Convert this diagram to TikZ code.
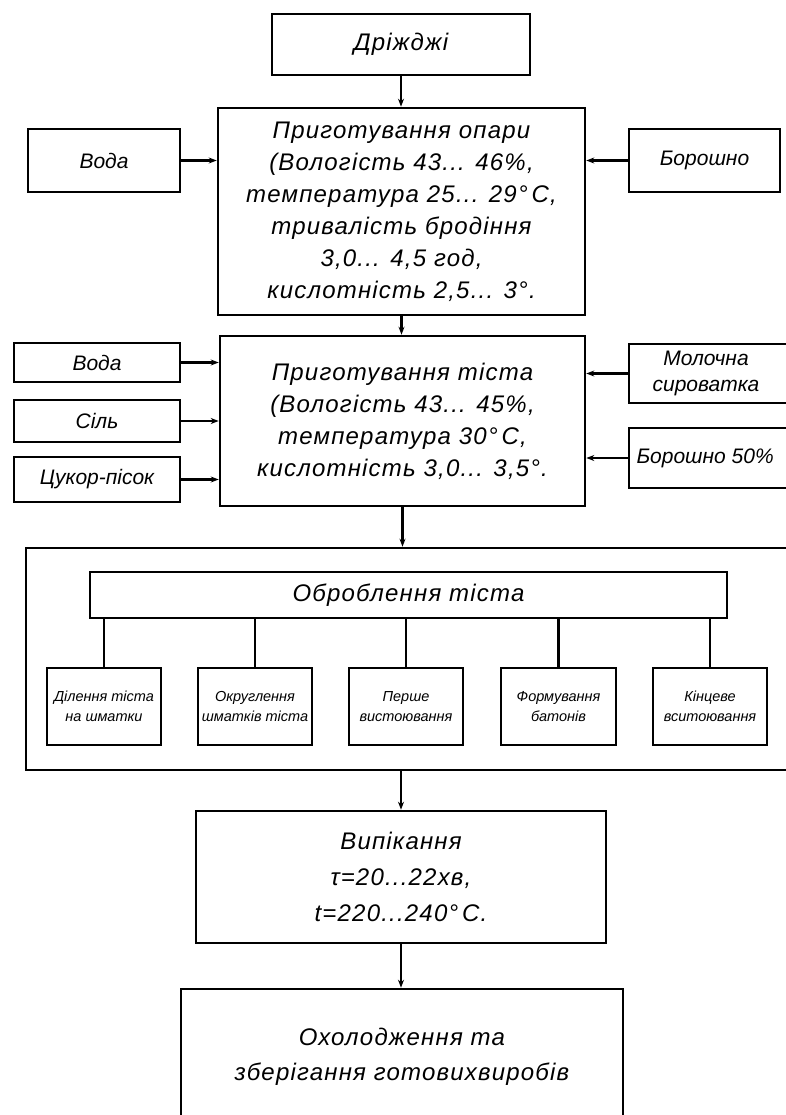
\documentclass[tikz,border=0pt]{standalone}
\usepackage{fontspec}
\setmainfont{Liberation Sans}
\usetikzlibrary{arrows.meta}
\newfontfamily\gostfont{Liberation Sans}[LetterSpace=5]
\begin{document}
\begin{tikzpicture}[x=1pt,y=-1pt,
  box/.style={draw, line width=2.6pt, rectangle, inner sep=0pt, align=center},
  big/.style={font=\gostfont\itshape\fontsize{24}{32}\selectfont},
  side/.style={font=\itshape\fontsize{21}{26}\selectfont, align=center},
  small/.style={font=\itshape\fontsize{14.5}{20}\selectfont},
  conn/.style={line width=2.4pt, -{Stealth[length=8pt,width=6pt]}},
  plain/.style={line width=2.4pt}
]
\clip (0,0) rectangle (786,1115);
\fill[white] (0,0) rectangle (786,1115);

% top part
\node[box, big, minimum width=258pt, minimum height=61pt] (dr) at (401,44.5) {Дріжджі};
\node[box, big, minimum width=367pt, minimum height=207pt] (op) at (401.5,211.5)
  {Приготування опари\\(Вологість 43... 46\%,\\температура 25... 29°\,С,\\тривалість бродіння\\3,0... 4,5 год,\\кислотність 2,5... 3°.};
\node[box, side, minimum width=152pt, minimum height=63pt] (voda1) at (104,160.5) {Вода};
\node[box, side, minimum width=151pt, minimum height=63pt] (bor1) at (704.5,160.5) {Борошно};

% dough preparation
\node[box, big, minimum width=365pt, minimum height=170pt] (ti) at (402.5,421)
  {Приготування тіста\\(Вологість 43... 45\%,\\температура 30°\,С,\\кислотність 3,0... 3,5°.};
\node[box, side, minimum width=166pt, minimum height=39pt] (voda2) at (97,362.5) {Вода};
\node[box, side, minimum width=166pt, minimum height=42pt] (sil) at (97,421) {Сіль};
\node[box, side, minimum width=166pt, minimum height=45pt] (cuk) at (97,479.5) {Цукор-пісок};
\node[box, minimum width=171pt, minimum height=59pt] (mol) at (714.5,373.5) {};
\node[side] (moltext) at (706,373.5) {Молочна\\сироватка};
\node[box, minimum width=171pt, minimum height=60pt] (bor2) at (714.5,458) {};
\node[side, anchor=west] (bor2text) at (633,458) {Борошно 50\%};

% processing
\node[box, minimum width=774pt, minimum height=222pt] (bigbox) at (413,659) {};
\node[box, big, minimum width=637pt, minimum height=46pt] (obr) at (408.5,595) {Оброблення тіста};
\node[box, small, minimum width=114pt, minimum height=77pt] (s1) at (104,706.5) {Ділення тіста\\на шматки};
\node[box, small, minimum width=114pt, minimum height=77pt] (s2) at (255,706.5) {Округлення\\шматків тіста};
\node[box, small, minimum width=114pt, minimum height=77pt] (s3) at (406,706.5) {Перше\\вистоювання};
\node[box, small, minimum width=115pt, minimum height=77pt] (s4) at (558.5,706.5) {Формування\\батонів};
\node[box, small, minimum width=114pt, minimum height=77pt] (s5) at (710,706.5) {Кінцеве\\вситоювання};

% baking and cooling
\node[box, big, minimum width=410pt, minimum height=132pt, font=\gostfont\itshape\fontsize{24}{36}\selectfont] (vyp) at (401,877)
  {Випікання\\τ=20...22хв,\\t=220...240°\,С.};
\node[box, big, minimum width=442pt, minimum height=136pt, font=\gostfont\itshape\fontsize{24}{35}\selectfont] (oh) at (402,1057)
  {Охолодження та\\зберігання готовихвиробів};

% connectors
\draw[conn] (dr.south) -- (dr.south |- op.north);
\draw[conn] (voda1.east) -- (voda1.east -| op.west);
\draw[conn] (bor1.west) -- (bor1.west -| op.east);
\draw[conn] (op.south) -- (op.south |- ti.north);
\draw[conn] (voda2.east) -- (voda2.east -| ti.west);
\draw[conn] (sil.east) -- (sil.east -| ti.west);
\draw[conn] (cuk.east) -- (cuk.east -| ti.west);
\draw[conn] (mol.west) -- (mol.west -| ti.east);
\draw[conn] (bor2.west) -- (bor2.west -| ti.east);
\draw[conn] (ti.south) -- (ti.south |- bigbox.north);
\foreach \s in {s1,s2,s3,s4,s5}
  \draw[plain] (\s.north |- obr.south) -- (\s.north);
\draw[conn] (vyp.north |- bigbox.south) -- (vyp.north);
\draw[conn] (vyp.south) -- (vyp.south |- oh.north);
\end{tikzpicture}
\end{document}
